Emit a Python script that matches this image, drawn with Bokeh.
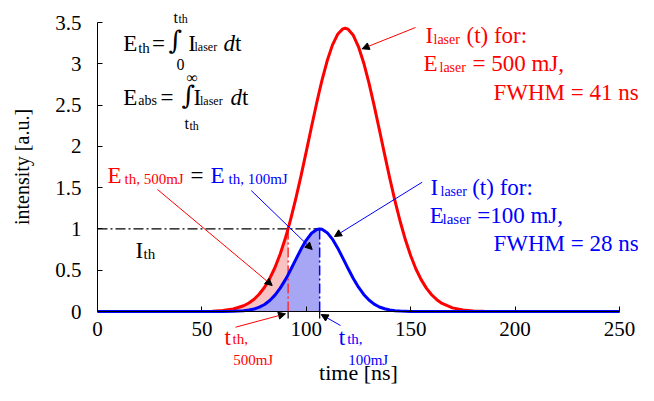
from bokeh.plotting import figure
from bokeh.models import Label, Arrow, NormalHead, Range1d, FixedTicker
from bokeh.embed import file_html
from bokeh.resources import INLINE

# ---- data ----
time_ns = [0, 10, 20, 30, 40, 50, 55, 60, 65, 70,
           72.5, 75, 77.5, 80, 82.5, 85, 87.5, 90, 91.3, 92.5,
           95, 97.5, 100, 102.5, 105, 106.4, 107.5, 110, 112.5, 115,
           117.5, 118.6, 120, 122.5, 125, 127.5, 130, 132.5, 135, 137.5,
           140, 142.5, 145, 147.5, 150, 152.5, 155, 157.5, 160, 162.5,
           165, 170, 175, 180, 185, 190, 200, 210, 220, 230,
           240, 250]
intensity_500mJ = [0, 0, 0, 0, 0.0001, 0.0015, 0.0043, 0.0119, 0.030, 0.0697,
                   0.103, 0.149, 0.2115, 0.294, 0.400, 0.533, 0.696, 0.890, 1.003, 1.115,
                   1.369, 1.646, 1.939, 2.237, 2.528, 2.683, 2.799, 3.036, 3.226, 3.357,
                   3.423, 3.43, 3.419, 3.345, 3.206, 3.010, 2.768, 2.494, 2.201, 1.903,
                   1.611, 1.337, 1.087, 0.865, 0.675, 0.515, 0.386, 0.283, 0.203, 0.143,
                   0.098, 0.044, 0.018, 0.007, 0.002, 0.001, 0, 0, 0, 0,
                   0, 0]
intensity_100mJ = [0, 0, 0, 0, 0, 0, 0.0001, 0.0005, 0.0023, 0.0092,
                   0.0172, 0.0306, 0.0521, 0.085, 0.1326, 0.198, 0.283, 0.386, 0.446, 0.505,
                   0.632, 0.756, 0.865, 0.948, 0.993, 1.0, 0.996, 0.955, 0.877, 0.770,
                   0.647, 0.591, 0.520, 0.400, 0.294, 0.207, 0.139, 0.090, 0.055, 0.033,
                   0.018, 0.010, 0.005, 0.0025, 0.001, 0.0005, 0.0002, 0.0001, 0, 0,
                   0, 0, 0, 0, 0, 0, 0, 0, 0, 0,
                   0, 0]
t_th_500mJ = 91.3
t_th_100mJ = 106.4
I_th = 1.0
x_ticks = [0, 50, 100, 150, 200, 250]
x_tick_labels = ["0", "50", "100", "150", "200", "250"]
y_ticks = [0, 0.5, 1, 1.5, 2, 2.5, 3, 3.5]
y_tick_labels = ["0", "0.5", "1", "1.5", "2", "2.5", "3", "3.5"]

assert len(time_ns) == len(intensity_500mJ) == len(intensity_100mJ)

RED = "#ff0000"
BLUE = "#0000ff"
FONT = "Liberation Serif"

# ---- layout: the frame fills the canvas, axes are pinned at x=0 / y=0 ----
W, H = 638, 385
AX_L, AX_R, AX_B, AX_T = 97.0, 619.0, 311.0, 22.0   # pixel positions of 0/250 and 0/3.5
X0, X1 = x_ticks[0], x_ticks[-1]
Y0, Y1 = y_ticks[0], y_ticks[-1]
sx = (AX_R - AX_L) / (X1 - X0)
sy = (AX_B - AX_T) / (Y1 - Y0)

p = figure(width=W, height=H, output_backend="svg", toolbar_location=None,
           x_range=Range1d(X0 - AX_L / sx, X0 + (W - AX_L) / sx),
           y_range=Range1d(Y0 - (H - AX_B) / sy, Y0 + AX_B / sy),
           min_border_left=0, min_border_right=0, min_border_top=0, min_border_bottom=0)
p.title.visible = False
p.background_fill_color = "white"
p.border_fill_color = "white"
p.outline_line_color = None
p.xgrid.visible = False
p.ygrid.visible = False

for ax in (p.xaxis[0], p.yaxis[0]):
    ax.fixed_location = 0
    ax.axis_line_color = "black"
    ax.major_tick_line_color = "black"
    ax.major_tick_in = 5
    ax.major_tick_out = 0
    ax.minor_tick_line_color = None
    ax.major_label_text_font = FONT
    ax.major_label_text_font_size = "21px"
    ax.major_label_text_color = "black"
    ax.axis_label_text_font = FONT
    ax.axis_label_text_font_style = "normal"
    ax.axis_label_text_color = "black"

p.xaxis.bounds = (X0, X1)
p.yaxis.bounds = (Y0, Y1)
p.xaxis.ticker = FixedTicker(ticks=x_ticks)
p.xaxis.major_label_overrides = dict(zip(x_ticks, x_tick_labels))
p.yaxis.ticker = FixedTicker(ticks=y_ticks)
p.yaxis.major_label_overrides = dict(zip(y_ticks, y_tick_labels))
p.xaxis.major_label_standoff = 10
p.yaxis.major_label_standoff = 16
p.xaxis.axis_label = "time [ns]"
p.yaxis.axis_label = "intensity [a.u.]"
p.xaxis.axis_label_text_font_size = "22px"
p.yaxis.axis_label_text_font_size = "20px"
p.xaxis.axis_label_standoff = 21
p.yaxis.axis_label_standoff = 19

# shaded integrals
red_x = [t for t in time_ns if t <= t_th_500mJ]
red_y = [v for t, v in zip(time_ns, intensity_500mJ) if t <= t_th_500mJ]
blue_x = [t for t in time_ns if t <= t_th_100mJ]
blue_y = [v for t, v in zip(time_ns, intensity_100mJ) if t <= t_th_100mJ]
p.varea(x=red_x, y1=[0] * len(red_x), y2=red_y, fill_color="#f9c2c2")
p.varea(x=blue_x, y1=[0] * len(blue_x), y2=blue_y, fill_color="#a6a6f4")

DASH = "10 3 2 3"
p.line([t_th_500mJ, t_th_500mJ], [0, I_th], line_color="#ff3030", line_width=1.5, line_dash=DASH)
p.line([t_th_100mJ, t_th_100mJ], [0, I_th], line_color=BLUE, line_width=1.5, line_dash=DASH)
p.line([0, t_th_100mJ], [I_th, I_th], line_color="black", line_width=1.2, line_dash=DASH)

p.line(time_ns, intensity_500mJ, line_color=RED, line_width=3, line_join="round")
p.line(time_ns, intensity_100mJ, line_color=BLUE, line_width=3, line_join="round")

# ---- annotation helpers (positions given in picture pixels) ----
def dx(px):
    return X0 + (px - AX_L) / sx
def dy(py):
    return Y0 + (AX_B - py) / sy

def lab(px, py, text, color="black", size=23, style="normal", font=FONT):
    p.add_layout(Label(x=dx(px), y=dy(py), text=text, text_color=color,
                       text_font=font, text_font_size=f"{size}px",
                       text_font_style=style, text_baseline="alphabetic",
                       text_align="left"))

def arr(x0, y0, x1, y1, color):
    p.add_layout(Arrow(end=NormalHead(size=7, fill_color="black", line_color="black"),
                       x_start=dx(x0), y_start=dy(y0), x_end=dx(x1), y_end=dy(y1),
                       line_color=color, line_width=1))

# little marks below the axis at the threshold times
for t in (t_th_500mJ, t_th_100mJ):
    p.add_layout(Arrow(end=None, x_start=t, y_start=0, x_end=t, y_end=dy(318),
                       line_color="black", line_width=1.2))

# formulas
lab(122.7, 43.3, "E")
lab(137.7, 47, "th", size=15)
lab(151.5, 43.3, "=")
lab(168, 39, "\u222b", size=26, font="DejaVu Serif")
lab(173, 16.7, "t", size=16)
lab(178, 18.5, "th", size=12)
lab(176, 64, "0", size=16)
lab(187.7, 43.3, "I")
lab(194, 46.7, "laser", size=12)
lab(223, 43.3, "d", style="italic")
lab(234.5, 43.3, "t")

lab(122.7, 96.7, "E")
lab(137.7, 100, "abs", size=14)
lab(160, 96.7, "=")
lab(181, 94, "\u222b", size=26, font="DejaVu Serif")
lab(186, 77, "\u221e", size=16)
lab(184, 123, "t", size=16)
lab(189, 125, "th", size=12)
lab(193, 96.7, "I")
lab(199.5, 100, "laser", size=12)
lab(230, 96.7, "d", style="italic")
lab(241.5, 96.7, "t")

# red pulse label
lab(425, 35, "I", RED)
lab(433, 38.5, "laser", RED, size=14)
lab(466, 35, "(t) for:", RED)
lab(423, 63, "E", RED)
lab(439, 67, "laser", RED, size=14)
lab(472, 63, "= 500 mJ,", RED)
lab(493, 92, "FWHM = 41 ns", RED)
arr(415, 27, 361.7, 48.3, RED)

# blue pulse label
lab(430, 187.3, "I", BLUE)
lab(440, 190.7, "laser", BLUE, size=14)
lab(471.7, 187.3, "(t) for:", BLUE)
lab(429.3, 215, "E", BLUE)
lab(442, 218.3, "laser", BLUE, size=15)
lab(476.7, 215, "=100 mJ,", BLUE)
lab(493, 243.3, "FWHM = 28 ns", BLUE)
arr(421.7, 181.7, 334, 236, BLUE)

# energy equality
lab(107, 175, "E", RED)
lab(124, 178.3, "th, 500mJ", RED, size=15)
lab(190, 175, "=")
lab(210, 175, "E", BLUE)
lab(228, 178.3, "th, 100mJ", BLUE, size=15)
arr(157, 189, 271.7, 285, RED)
arr(250.7, 190, 311.7, 249, BLUE)

# threshold intensity
lab(135, 250, "I")
lab(143, 253, "th", size=15)

# threshold times
lab(224, 337, "t", RED)
lab(232, 338.7, "th,", RED, size=15)
lab(232.7, 359.5, "500mJ", RED, size=15)
arr(235, 326.7, 285, 313.3, RED)
lab(338.3, 337, "t", BLUE)
lab(346.7, 338.7, "th,", BLUE, size=15)
lab(347.7, 359.5, "100mJ", BLUE, size=15)
arr(340, 325, 320.7, 314, BLUE)

open("out.html", "w").write(file_html(p, INLINE))
